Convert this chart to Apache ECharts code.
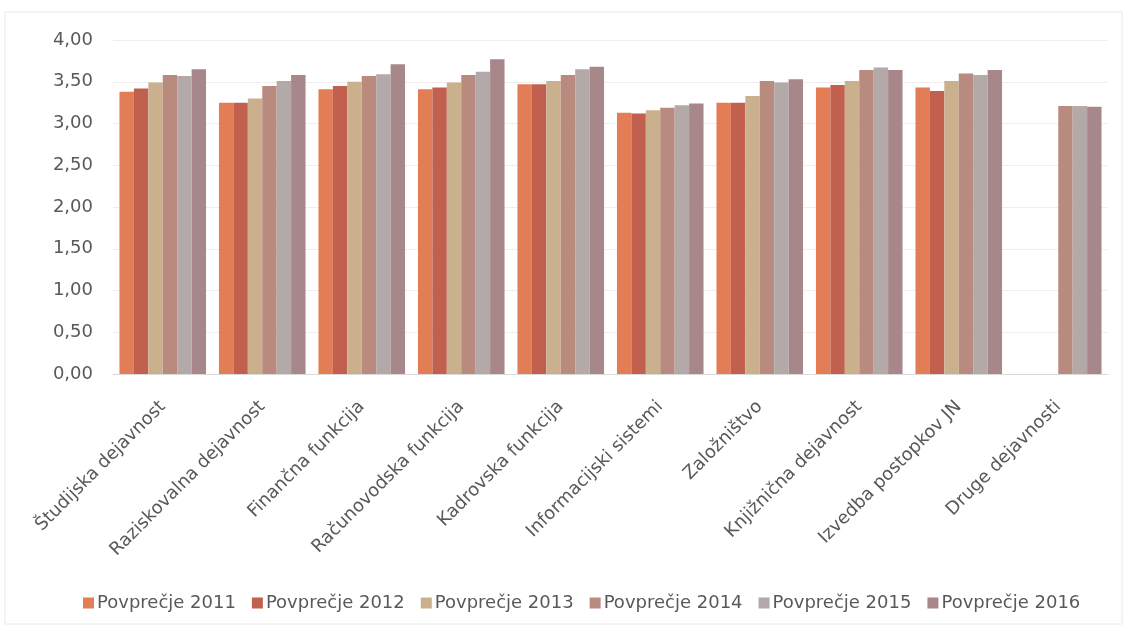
<!DOCTYPE html>
<html>
<head>
<meta charset="utf-8">
<script src="https://cdn.jsdelivr.net/npm/echarts@6/dist/echarts.min.js"></script>
<style>
html,body{margin:0;padding:0;background:#fff;}
#chart{width:1129px;height:631px;}
</style>
</head>
<body>
<div id="chart"></div>
<script>
const categories = ["Študijska dejavnost","Raziskovalna dejavnost","Finančna funkcija","Računovodska funkcija","Kadrovska funkcija","Informacijski sistemi","Založništvo","Knjižnična dejavnost","Izvedba postopkov JN","Druge dejavnosti"];
const seriesNames = ["Povprečje 2011","Povprečje 2012","Povprečje 2013","Povprečje 2014","Povprečje 2015","Povprečje 2016"];
const v2011 = [3.38, 3.25, 3.41, 3.41, 3.47, 3.13, 3.25, 3.43, 3.43, null];
const v2012 = [3.42, 3.25, 3.45, 3.43, 3.47, 3.12, 3.25, 3.46, 3.39, null];
const v2013 = [3.49, 3.30, 3.50, 3.49, 3.51, 3.16, 3.33, 3.51, 3.51, null];
const v2014 = [3.58, 3.45, 3.57, 3.58, 3.58, 3.19, 3.51, 3.64, 3.60, 3.21];
const v2015 = [3.57, 3.51, 3.59, 3.62, 3.65, 3.22, 3.49, 3.67, 3.58, 3.21];
const v2016 = [3.65, 3.58, 3.71, 3.77, 3.68, 3.24, 3.53, 3.64, 3.64, 3.20];
const yTicks = [0, 0.5, 1, 1.5, 2, 2.5, 3, 3.5, 4];

const allValues = [v2011, v2012, v2013, v2014, v2015, v2016];
const colors = ["#E37D56", "#C1604F", "#CBB08E", "#B98B7E", "#B3A9A9", "#A8878A"];
const font = "'DejaVu Sans', 'Open Sans', sans-serif";

const chart = echarts.init(document.getElementById('chart'));
chart.setOption({
  backgroundColor: '#ffffff',
  animation: false,
  color: colors,
  graphic: [{
    type: 'rect',
    shape: {x: 5, y: 12, width: 1117, height: 612},
    style: {fill: 'none', stroke: '#e8e8e8', lineWidth: 1},
    silent: true
  }],
  grid: {left: 113, right: 21, top: 40, height: 334, containLabel: false},
  legend: {
    data: seriesNames,
    top: 589,
    left: 78,
    itemWidth: 11,
    itemHeight: 11,
    itemGap: 16,
    icon: 'rect',
    textStyle: {color: '#595959', fontSize: 18, fontFamily: font, padding: [0, 0, 0, -2]}
  },
  xAxis: {
    type: 'category',
    data: categories,
    axisLine: {lineStyle: {color: '#d9d9d9'}},
    axisTick: {show: false},
    axisLabel: {
      rotate: 45,
      interval: 0,
      color: '#595959',
      fontSize: 18,
      fontFamily: font,
      margin: 30
    }
  },
  yAxis: {
    type: 'value',
    min: yTicks[0],
    max: yTicks[yTicks.length - 1],
    interval: 0.5,
    axisLine: {show: false},
    axisTick: {show: false},
    splitLine: {lineStyle: {color: '#eeeeee'}},
    axisLabel: {
      color: '#595959',
      fontSize: 18,
      fontFamily: font,
      margin: 20,
      formatter: v => v.toFixed(2).replace('.', ',')
    }
  },
  series: seriesNames.map((name, i) => ({
    name: name,
    type: 'bar',
    data: allValues[i],
    barGap: '0%',
    barCategoryGap: '13%',
    itemStyle: {color: colors[i]}
  }))
});
</script>
</body>
</html>
